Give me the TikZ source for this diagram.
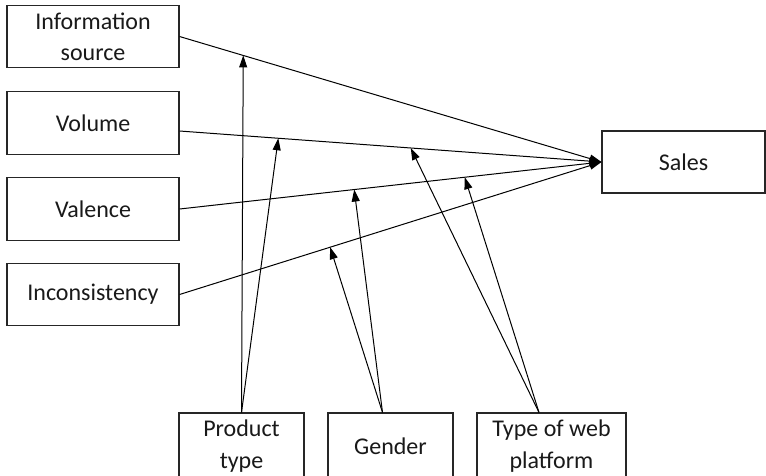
\documentclass[tikz,border=0pt]{standalone}
\usepackage{fontspec}
\setmainfont{Carlito}
\usetikzlibrary{arrows.meta,calc}
\begin{document}
\begin{tikzpicture}[x=0.75pt,y=-0.75pt,
  box/.style={draw=black!85, line width=0.8pt, align=center, inner sep=0pt,
    text=black!90, font=\fontsize{18}{23.5}\selectfont},
  lbox/.style={box, minimum width=129pt, minimum height=47pt},
  bbox/.style={box, minimum height=49.5pt},
  conn/.style={draw=black, line width=0.75pt, -{Triangle[length=9pt,width=6pt]}}]
\useasboundingbox (0,0) rectangle (766,475);
\clip (0,0) rectangle (766,475);
% left boxes
\node[lbox] (info) at (93,36.5) {Information\\source};
\node[lbox] (vol) at (93,123) {Volume};
\node[lbox] (val) at (93,209) {Valence};
\node[lbox] (inc) at (93,294.5) {Inconsistency};
% sales
\node[box, minimum width=122.25pt, minimum height=46.5pt] (sales) at (683.5,162) {Sales};
% bottom boxes
\node[bbox, minimum width=93.75pt] (prod) at (241.5,446) {Product\\type};
\node[bbox, minimum width=93.75pt] (gend) at (390.5,446) {Gender};
\node[bbox, minimum width=111.75pt] (web) at (551.5,446) {Type of web\\platform};
% start points
\coordinate (vs) at ($(vol.east)+(0,8)$);
\coordinate (ps) at (prod.north);
\coordinate (gs) at ($(gend.north)+(-8,0)$);
\coordinate (ws) at ($(web.north)+(-12.5,0)$);
% main paths
\draw[conn] (info.east) -- (sales.west);
\draw[conn] (vs) -- (sales.west);
\draw[conn] (val.east) -- (sales.west);
\draw[conn] (inc.east) -- (sales.west);
% moderator targets
\coordinate (t1) at ($(info.east)!0.151!(sales.west)$);
\coordinate (t2) at ($(vs)!0.234!(sales.west)$);
\coordinate (t3) at ($(vs)!0.548!(sales.west)$);
\coordinate (t4) at ($(val.east)!0.414!(sales.west)$);
\coordinate (t5) at ($(val.east)!0.676!(sales.west)$);
\coordinate (t6) at ($(inc.east)!0.357!(sales.west)$);
\draw[conn] (ps) -- (t1);
\draw[conn] (ps) -- (t2);
\draw[conn] (gs) -- (t4);
\draw[conn] (gs) -- (t6);
\draw[conn] (ws) -- (t3);
\draw[conn] (ws) -- (t5);
\end{tikzpicture}
\end{document}
